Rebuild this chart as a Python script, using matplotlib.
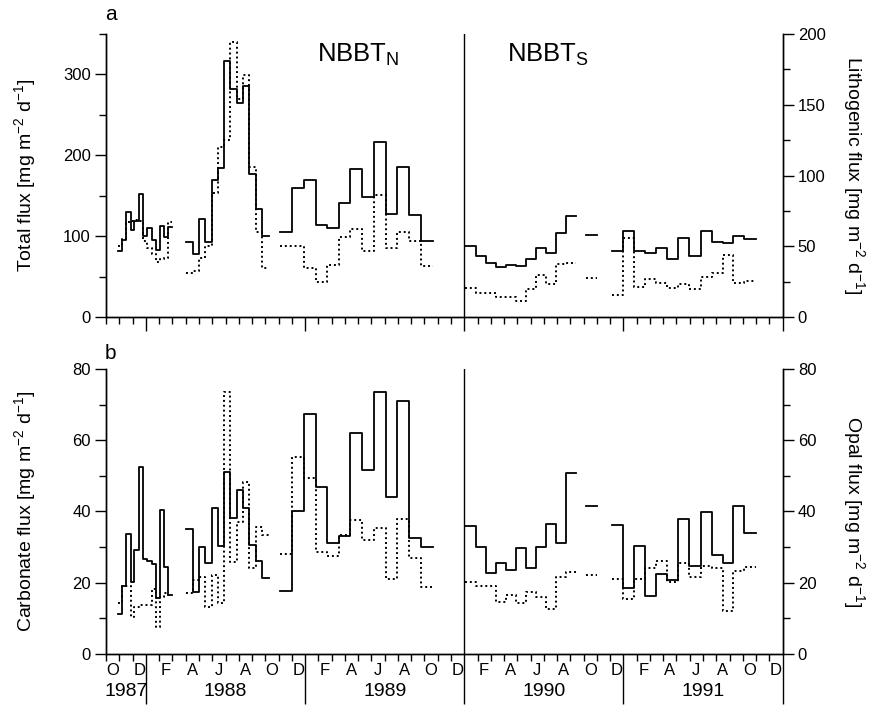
import matplotlib
matplotlib.use('Agg')
import matplotlib.pyplot as plt
from matplotlib.ticker import MultipleLocator, FixedLocator, NullFormatter

plt.rcParams['font.family'] = ['Liberation Sans', 'DejaVu Sans']
plt.rcParams['mathtext.default'] = 'regular'

# cup open/close times in months since Jan 1987, one list per deployment
edges_n1 = [9.91, 10.17, 10.49, 10.85, 11.12, 11.50, 11.75, 12.10, 12.43, 12.73, 13.06, 13.36, 13.64, 13.98]
edges_n2 = [15.02, 15.55, 15.98, 16.47, 16.96, 17.45, 17.92, 18.36, 18.86, 19.34, 19.79, 20.27, 20.75, 21.29]
edges_n3 = [22.14, 23.00, 23.93, 24.81, 25.67, 26.56, 27.41, 28.29, 29.17, 30.08, 30.93, 31.86, 32.76, 33.65]
edges_s1 = [36.04, 36.87, 37.64, 38.37, 39.13, 39.88, 40.66, 41.41, 42.17, 42.92, 43.68, 44.41]
edges_s1b = [45.18, 45.99]
edges_s2 = [47.17, 47.95, 48.83, 49.63, 50.46, 51.32, 52.14, 52.97, 53.83, 54.66, 55.49, 56.29, 57.12, 57.98]

# fluxes, mg m-2 d-1 (one value per cup, deployments in the order above)
total_flux = [82, 96, 130, 108, 119, 152, 100, 110, 95, 83, 113, 99, 111,
              93, 78, 122, 93, 170, 184, 316, 282, 265, 285, 177, 134, 100,
              105, 160, 170, 114, 110, 141, 183, 149, 217, 127, 185, 126, 94,
              88, 76, 67, 62, 65, 63, 72, 86, 80, 104, 125,
              102,
              82, 106, 82, 80, 85, 72, 98, 76, 106, 93, 92, 100, 97]
litho_flux = [50, 55, 67, 68, 69, 68, 54, 49, 45, 39, 41, 42, 67,
              31, 33, 42, 50, 88, 120, 125, 194, 154, 171, 106, 60, 35,
              50, 50, 35, 25, 37, 57, 62, 47, 86, 49, 60, 54, 36,
              21, 17, 17, 14.5, 14, 11.5, 20, 30, 23.5, 37.6, 38.5,
              28,
              15.7, 55.7, 21.6, 27, 24, 20.5, 23.5, 19.7, 28.6, 31, 43.9, 24.4, 25.8]
carb_flux = [11.2, 19.2, 33.6, 20.1, 29.2, 52.4, 26.6, 26.0, 25.3, 15.6, 40.4, 24.5, 16.6,
             35.1, 17.5, 30.1, 25.5, 40.9, 30.4, 51, 38.2, 46, 41.1, 30.6, 26.1, 21.2,
             17.8, 40.2, 67.4, 47, 31.2, 33.2, 62.1, 51.6, 73.6, 44, 71, 32.5, 30.1,
             36, 29.9, 22.6, 25.5, 23.6, 29.8, 24, 29.9, 36.5, 31.1, 50.9,
             41.6,
             36.2, 18.4, 30.3, 16.3, 22.4, 20.8, 37.9, 24.7, 39.9, 27.8, 25.6, 41.5, 33.9]
opal_flux = [14.2, 19.1, 19.1, 10.5, 13.3, 13.8, 13.8, 13.8, 18.2, 7.7, 16, 17, 16.6,
             17, 20.8, 21.7, 13.3, 22.2, 14.2, 73.6, 25.9, 37.1, 48.4, 24, 35.7, 33.4,
             28, 55.4, 49.4, 28.7, 27.4, 33.3, 37.5, 32, 35.4, 21.1, 37.8, 26.9, 18.7,
             20.3, 19.1, 19.1, 14.7, 16.6, 14.4, 17.5, 16.1, 12.5, 21.7, 22.9,
             22.2,
             21, 15.4, 21, 24, 26.2, 20.3, 25.5, 21.5, 24.7, 24.2, 12.1, 23.4, 24.5]

month_letters = ['F', 'A', 'J', 'A', 'O', 'D']
years = ['1987', '1988', '1989', '1990', '1991']

deployments = [edges_n1, edges_n2, edges_n3, edges_s1, edges_s1b, edges_s2]


def draw_steps(ax, values, **kw):
    # one step line per deployment, gaps in between
    i = 0
    for e in deployments:
        n = len(e) - 1
        v = list(values[i:i + n])
        ax.step(e, v + [v[-1]], where='post', color='k', **kw)
        i += n


def style_axes(ax, axr, top, yl, yr):
    for a in (ax, axr):
        a.spines['top'].set_visible(False)
        for s in a.spines.values():
            s.set_linewidth(1.0)
    ax.set_xlim(9, 60)
    ax.xaxis.set_major_locator(FixedLocator([12, 24, 36, 48, 60]))
    ax.xaxis.set_minor_locator(MultipleLocator(1))
    ax.xaxis.set_major_formatter(NullFormatter())
    ax.tick_params(axis='x', which='minor', direction='out', length=5, width=1)
    ax.tick_params(axis='x', which='major', direction='out',
                   length=10 if top else 36, width=1)
    ax.set_ylim(0, yl[0])
    ax.yaxis.set_major_locator(MultipleLocator(yl[1]))
    ax.yaxis.set_minor_locator(MultipleLocator(yl[2]))
    axr.set_ylim(0, yr[0])
    axr.yaxis.set_major_locator(MultipleLocator(yr[1]))
    axr.yaxis.set_minor_locator(MultipleLocator(yr[2]))
    for a in (ax, axr):
        a.tick_params(axis='y', which='major', direction='out', length=8, width=1,
                      labelsize=12, pad=3)
        a.tick_params(axis='y', which='minor', direction='out', length=5, width=1)
    ax.axvline(36, color='k', lw=1.0)


fig = plt.figure(figsize=(8.73, 7.11), dpi=100)
ax1 = fig.add_axes([0.1216, 0.5537, 0.7748, 0.3987])
ax1r = ax1.twinx()
ax2 = fig.add_axes([0.1216, 0.0802, 0.7748, 0.4008])
ax2r = ax2.twinx()

lab_size = 14

# a: total and lithogenic flux
draw_steps(ax1, total_flux, lw=1.3)
draw_steps(ax1r, litho_flux, lw=1.4, linestyle=(0, (1, 1.5)))
style_axes(ax1, ax1r, True, (350, 100, 50), (200, 50, 25))
ax1.set_ylabel('Total flux [mg m$^{-2}$ d$^{-1}$]', fontsize=lab_size, labelpad=18)
ax1r.set_ylabel('Lithogenic flux [mg m$^{-2}$ d$^{-1}$]', fontsize=lab_size,
                rotation=270, labelpad=30)
ax1.text(24.87, 315, 'NBBT$_\\mathregular{N}$', fontsize=18.5, ha='left', va='baseline')
ax1.text(39.2, 315, 'NBBT$_\\mathregular{S}$', fontsize=18.5, ha='left', va='baseline')

# b: carbonate and opal flux
draw_steps(ax2, carb_flux, lw=1.3)
draw_steps(ax2r, opal_flux, lw=1.4, linestyle=(0, (1, 1.5)))
style_axes(ax2, ax2r, False, (80, 20, 10), (80, 20, 10))
ax2.set_ylabel('Carbonate flux [mg m$^{-2}$ d$^{-1}$]', fontsize=lab_size, labelpad=25)
ax2r.set_ylabel('Opal flux [mg m$^{-2}$ d$^{-1}$]', fontsize=lab_size,
                rotation=270, labelpad=36)

# month and year labels under panel b
tr = ax2.get_xaxis_transform()
ax2.text(9.5, -0.058, 'O', transform=tr, ha='center', va='center', fontsize=12)
ax2.text(11.5, -0.058, 'D', transform=tr, ha='center', va='center', fontsize=12)
for k in range(4):
    for j, lab in enumerate(month_letters):
        ax2.text(12 + 12 * k + 2 * j + 1.5, -0.058, lab, transform=tr,
                 ha='center', va='center', fontsize=12)
ax2.text(10.5, -0.13, years[0], transform=tr, ha='center', va='center', fontsize=14)
for k in range(1, 5):
    ax2.text(12 * k + 6, -0.13, years[k], transform=tr, ha='center', va='center',
             fontsize=14)

fig.text(105 / 873, 1 - 14 / 711, 'a', fontsize=15, ha='left', va='center')
fig.text(105 / 873, 1 - 353 / 711, 'b', fontsize=15, ha='left', va='center')

fig.savefig('out.png', dpi=100)
